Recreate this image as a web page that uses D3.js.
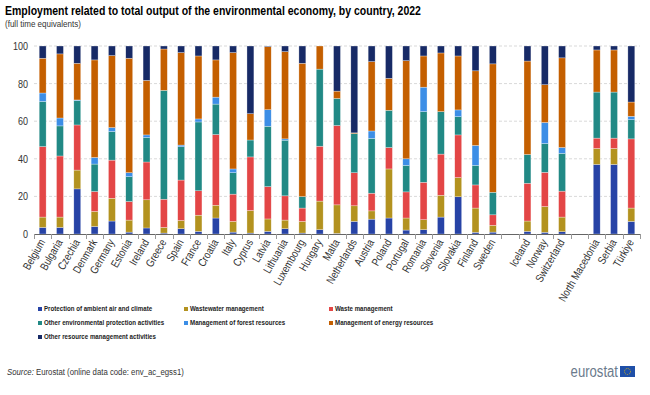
<!DOCTYPE html>
<html>
<head>
<meta charset="utf-8">
<script src="https://cdn.jsdelivr.net/npm/d3@7"></script>
<style>
  body { margin: 0; background: #fff; }
  svg { font-family: "Liberation Sans", Arial, sans-serif; }
</style>
</head>
<body>
<svg id="chart"></svg>
<script>
// countries; blank strings are the gaps between groups
const countries = ["Belgium", "Bulgaria", "Czechia", "Denmark", "Germany", "Estonia", "Ireland", "Greece", "Spain",
  "France", "Croatia", "Italy", "Cyprus", "Latvia", "Lithuania", "Luxembourg", "Hungary", "Malta", "Netherlands",
  "Austria", "Poland", "Portugal", "Romania", "Slovenia", "Slovakia", "Finland", "Sweden", "",
  "Iceland", "Norway", "Switzerland", " ", "North Macedonia", "Serbia", "Türkiye"];

const seriesNames = ["Protection of ambient air and climate", "Wastewater management", "Waste management",
  "Other environmental protection activities", "Management of forest resources",
  "Management of energy resources", "Other resource management activities"];
const seriesColors = ["#2743a6", "#b3921f", "#e34646", "#218985", "#3c8ee6", "#c45f00", "#172a66"];

// shares in %, per country (same order as countries)
const air = [3.5, 3.5, 24, 4, 6.9, 1, 3.2, 0.5, 2.8, 1.4, 8.5, 1, 0.5, 1.4, 2.8, 0.5, 2.3, 0.3, 6.7,
  7.9, 8.5, 2.1, 2.3, 9, 19.8, 0.9, 1, null, 1.4, 0.9, 1.2, null, 37, 37, 6.7];
const wastewater = [5.5, 5.5, 10, 8, 12.1, 6.4, 15, 3, 4.4, 8.6, 6.8, 5.7, 12, 6.6, 4.6, 6.2, 15.2, 15.2, 8.3,
  4.4, 26.1, 6.4, 5.3, 11.6, 10.2, 12.9, 3.6, null, 5.5, 13.7, 7.8, null, 8.5, 8.5, 7.1];
const waste = [37.5, 32.5, 24, 10.6, 20.3, 9.9, 20.1, 15, 21.5, 13, 37.6, 14.5, 28.5, 17.2, 12.9, 7.1, 29.2, 42.2, 17.6,
  9.4, 11.4, 13.9, 19.9, 21.9, 22.7, 12.3, 5.6, null, 20.1, 18.2, 13.8, null, 5.5, 5.5, 36.8];
const otherProtection = [24, 16, 13, 14.6, 15.2, 13.2, 13, 57.9, 17.7, 36.6, 16.2, 11.4, 9, 32.1, 29.6, 6.1, 41, 14.4, 20.8,
  29.1, 19.8, 14.1, 37.6, 22.6, 9.7, 10.4, 12, null, 15.3, 15.3, 20.1, null, 24.5, 24.5, 10.2];
const forest = [4.5, 4.2, 0.3, 3.5, 2.1, 2.1, 1.4, 0, 0.9, 1.6, 3.7, 2, 0, 8.8, 0.7, 0, 0, 0, 0,
  4, 0, 3.5, 13, 0, 3.6, 10.6, 0, null, 0, 11.2, 3.1, null, 0, 0, 1.8];
const energy = [18.5, 34.1, 19.5, 51.9, 38.3, 60.9, 29, 22, 49.2, 33.5, 19.8, 61.9, 14, 33.5, 46.4, 70.9, 12.3, 3.9, 0.4,
  36.9, 17, 52.2, 16.6, 31.2, 28.7, 39.7, 68.3, null, 49.7, 20.1, 47.7, null, 22.4, 22.4, 7.6];
const otherResource = [6.5, 4.2, 9.2, 7.4, 5.1, 6.5, 18.3, 1.6, 3.5, 5.3, 7.4, 3.5, 36, 0.4, 3, 9.2, 0, 24, 46.2,
  8.3, 17.2, 7.8, 5.3, 3.7, 5.3, 13.2, 9.5, null, 8, 20.6, 6.3, null, 2.1, 2.1, 29.8];

const yTicks = [0, 20, 40, 60, 80, 100];

const WIDTH = 650, HEIGHT = 395;
const margin = {left: 34, right: 10, top: 46, bottom: 161};
const NARROW = 0.82; // the reference uses a condensed face

const svg = d3.select("#chart").attr("width", WIDTH).attr("height", HEIGHT);

// squeeze text horizontally so it looks like a narrow font
function condense(sel, factor) {
  const f = factor || NARROW;
  sel.each(function () {
    const w = this.getComputedTextLength();
    d3.select(this).attr("textLength", w * f).attr("lengthAdjust", "spacingAndGlyphs");
  });
}

const rows = countries.map(function (c, i) {
  return {
    country: c,
    s0: air[i] || 0, s1: wastewater[i] || 0, s2: waste[i] || 0, s3: otherProtection[i] || 0,
    s4: forest[i] || 0, s5: energy[i] || 0, s6: otherResource[i] || 0,
    empty: air[i] === null
  };
});
const keys = ["s0", "s1", "s2", "s3", "s4", "s5", "s6"];

const x = d3.scaleBand()
  .domain(countries)
  .range([margin.left, WIDTH - margin.right])
  .paddingInner(0.6)
  .paddingOuter(0.3);

const y = d3.scaleLinear().domain([0, 100]).range([HEIGHT - margin.bottom, margin.top]);

// gridlines
svg.append("g")
  .selectAll("line")
  .data(yTicks.slice(1))
  .enter().append("line")
  .attr("x1", margin.left).attr("x2", WIDTH - margin.right)
  .attr("y1", d => y(d)).attr("y2", d => y(d))
  .attr("stroke", "#d9d9d9")
  .attr("stroke-dasharray", "3,2");

// y axis labels
svg.append("g")
  .selectAll("text")
  .data(yTicks)
  .enter().append("text")
  .attr("x", margin.left - 6)
  .attr("y", d => y(d) + 4)
  .attr("text-anchor", "end")
  .attr("font-size", 11)
  .attr("fill", "#333")
  .text(d => d)
  .call(condense);

const stack = d3.stack().keys(keys);
const layers = stack(rows.filter(r => !r.empty));

svg.append("g")
  .selectAll("g")
  .data(layers)
  .enter().append("g")
  .attr("fill", (d, i) => seriesColors[i])
  .selectAll("rect")
  .data(d => d)
  .enter().append("rect")
  .attr("x", d => x(d.data.country))
  .attr("width", x.bandwidth())
  .attr("y", d => y(d[1]))
  .attr("height", d => Math.max(0, y(d[0]) - y(d[1])))
  .attr("stroke", "#fff")
  .attr("stroke-opacity", 0.6)
  .attr("stroke-width", 0.5);

// x axis
const tickPos = d3.range(countries.length + 1).map(i => margin.left + (WIDTH - margin.right - margin.left) / countries.length * i);
const xAxisG = svg.append("g");
xAxisG.append("line")
  .attr("x1", margin.left).attr("x2", WIDTH - margin.right)
  .attr("y1", y(0) + 0.5).attr("y2", y(0) + 0.5)
  .attr("stroke", "#666");
xAxisG.selectAll(".tick")
  .data(tickPos)
  .enter().append("line")
  .attr("x1", d => Math.round(d) + 0.5).attr("x2", d => Math.round(d) + 0.5)
  .attr("y1", y(0)).attr("y2", y(0) + 5)
  .attr("stroke", "#999");

xAxisG.selectAll("text")
  .data(countries.filter(c => c.trim() !== ""))
  .enter().append("text")
  .attr("transform", d => "translate(" + (x(d) + x.bandwidth() / 2 + 3) + "," + (y(0) + 8) + ") rotate(-60)")
  .attr("text-anchor", "end")
  .attr("font-size", 11.2)
  .attr("fill", "#333")
  .text(d => d)
  .call(condense);

// title
svg.append("text")
  .attr("x", 5).attr("y", 15)
  .attr("font-size", 12.8).attr("font-weight", "bold").attr("fill", "#000")
  .text("Employment related to total output of the environmental economy, by country, 2022")
  .call(condense);
svg.append("text")
  .attr("x", 5).attr("y", 27)
  .attr("font-size", 9.8).attr("fill", "#333")
  .text("(full time equivalents)")
  .call(condense);

// legend
const legendPos = [[38, 311], [184, 311], [329, 311], [38, 325], [184, 325], [329, 325], [38, 339]];
const legend = svg.append("g")
  .selectAll("g")
  .data(seriesNames)
  .enter().append("g")
  .attr("transform", (d, i) => "translate(" + legendPos[i][0] + "," + legendPos[i][1] + ")");
legend.append("rect")
  .attr("x", 0).attr("y", -4).attr("width", 4).attr("height", 4)
  .attr("fill", (d, i) => seriesColors[i]);
legend.append("text")
  .attr("x", 6).attr("y", 0)
  .attr("font-size", 8).attr("font-weight", "bold").attr("fill", "#222")
  .text(d => d)
  .call(condense, 0.77);

// source, squeezed as a whole
const src = svg.append("text")
  .attr("transform", "translate(7,375) scale(" + NARROW + ",1)")
  .attr("font-size", 9.5).attr("fill", "#333");
src.append("tspan").attr("font-style", "italic").text("Source:");
src.append("tspan").text(" Eurostat (online data code: env_ac_egss1)");

// eurostat logo
svg.append("text")
  .attr("x", 618).attr("y", 377)
  .attr("text-anchor", "end")
  .attr("font-size", 16).attr("fill", "#6b7a8c")
  .text("eurostat")
  .call(condense);
svg.append("rect")
  .attr("x", 620).attr("y", 366).attr("width", 15).attr("height", 11)
  .attr("fill", "#1f4fa8");
svg.append("circle")
  .attr("cx", 627.5).attr("cy", 371.5).attr("r", 3)
  .attr("fill", "none").attr("stroke", "#f2c400").attr("stroke-width", 0.8).attr("stroke-dasharray", "1,1");
</script>
</body>
</html>
